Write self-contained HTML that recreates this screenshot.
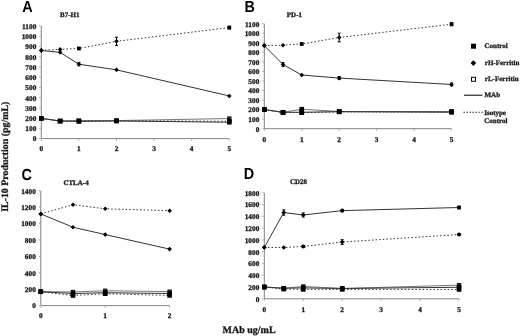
<!DOCTYPE html><html><head><meta charset="utf-8"><style>
html,body{margin:0;padding:0;background:#fff;}
svg{display:block;filter:blur(0.35px);} text{text-rendering:geometricPrecision;}
.t{stroke:#222;stroke-width:0.3px;font-family:"Liberation Serif", serif;font-weight:bold;font-size:7.3px;fill:#111;}
.ti{stroke:#222;stroke-width:0.3px;font-family:"Liberation Serif", serif;font-weight:bold;font-size:7px;fill:#111;}
.pl{font-family:"Liberation Sans", sans-serif;font-weight:bold;font-size:16px;fill:#000;}
.lg{stroke:#222;stroke-width:0.3px;font-family:"Liberation Serif", serif;font-weight:bold;font-size:7px;fill:#111;}
.ax{stroke:#222;stroke-width:0.3px;font-family:"Liberation Serif", serif;font-weight:bold;font-size:10px;fill:#111;}
.yt{stroke:#222;stroke-width:0.3px;font-family:"Liberation Serif", serif;font-weight:bold;font-size:9.9px;fill:#111;}
</style></head><body>
<svg width="520" height="336" viewBox="0 0 520 336">
<rect width="520" height="336" fill="#fff"/>
<path d="M41.3 26.07V138.6H229.3" stroke="#808080" stroke-width="1" fill="none"/>
<path d="M39.1 138.6H40.8" stroke="#aaa" stroke-width="1"/>
<text x="36.3" y="141.45" text-anchor="end" class="t">0</text>
<path d="M39.1 128.37H40.8" stroke="#aaa" stroke-width="1"/>
<text x="36.3" y="131.22" text-anchor="end" class="t">100</text>
<path d="M39.1 118.14H40.8" stroke="#aaa" stroke-width="1"/>
<text x="36.3" y="120.99" text-anchor="end" class="t">200</text>
<path d="M39.1 107.91H40.8" stroke="#aaa" stroke-width="1"/>
<text x="36.3" y="110.76" text-anchor="end" class="t">300</text>
<path d="M39.1 97.68H40.8" stroke="#aaa" stroke-width="1"/>
<text x="36.3" y="100.53" text-anchor="end" class="t">400</text>
<path d="M39.1 87.45H40.8" stroke="#aaa" stroke-width="1"/>
<text x="36.3" y="90.3" text-anchor="end" class="t">500</text>
<path d="M39.1 77.22H40.8" stroke="#aaa" stroke-width="1"/>
<text x="36.3" y="80.07" text-anchor="end" class="t">600</text>
<path d="M39.1 66.99H40.8" stroke="#aaa" stroke-width="1"/>
<text x="36.3" y="69.84" text-anchor="end" class="t">700</text>
<path d="M39.1 56.76H40.8" stroke="#aaa" stroke-width="1"/>
<text x="36.3" y="59.61" text-anchor="end" class="t">800</text>
<path d="M39.1 46.53H40.8" stroke="#aaa" stroke-width="1"/>
<text x="36.3" y="49.38" text-anchor="end" class="t">900</text>
<path d="M39.1 36.3H40.8" stroke="#aaa" stroke-width="1"/>
<text x="36.3" y="39.15" text-anchor="end" class="t">1000</text>
<path d="M39.1 26.07H40.8" stroke="#aaa" stroke-width="1"/>
<text x="36.3" y="28.92" text-anchor="end" class="t">1100</text>
<path d="M41.3 139.1V140.8" stroke="#aaa" stroke-width="1"/>
<text x="41.3" y="151.1" text-anchor="middle" class="t">0</text>
<path d="M78.9 139.1V140.8" stroke="#aaa" stroke-width="1"/>
<text x="78.9" y="151.1" text-anchor="middle" class="t">1</text>
<path d="M116.5 139.1V140.8" stroke="#aaa" stroke-width="1"/>
<text x="116.5" y="151.1" text-anchor="middle" class="t">2</text>
<path d="M154.1 139.1V140.8" stroke="#aaa" stroke-width="1"/>
<text x="154.1" y="151.1" text-anchor="middle" class="t">3</text>
<path d="M191.7 139.1V140.8" stroke="#aaa" stroke-width="1"/>
<text x="191.7" y="151.1" text-anchor="middle" class="t">4</text>
<path d="M229.3 139.1V140.8" stroke="#aaa" stroke-width="1"/>
<text x="229.3" y="151.1" text-anchor="middle" class="t">5</text>
<polyline points="41.3,118.34 60.1,121 78.9,120.6 116.5,120.6 229.3,118.55" fill="none" stroke="#777" stroke-width="1.0"/>
<polyline points="41.3,118.34 60.1,121.21 78.9,121 116.5,120.8 229.3,121.21" fill="none" stroke="#333" stroke-width="1.0" stroke-dasharray="1.5 2.1"/>
<polyline points="41.3,118.34 60.1,121 78.9,121.41 116.5,121 229.3,122.23" fill="none" stroke="#333" stroke-width="1.0"/>
<polyline points="41.3,50.42 60.1,52.36 78.9,64.23 116.5,69.85 229.3,95.94" fill="none" stroke="#333" stroke-width="1.0"/>
<polyline points="41.3,50.42 60.1,49.39 78.9,48.47 116.5,41.31 229.3,27.6" fill="none" stroke="#333" stroke-width="1.0" stroke-dasharray="1.5 2.1"/>
<rect x="39.1" y="116.14" width="4.4" height="4.4" fill="#222"/>
<rect x="57.9" y="118.8" width="4.4" height="4.4" fill="#222"/>
<rect x="76.7" y="118.4" width="4.4" height="4.4" fill="#222"/>
<rect x="114.3" y="118.4" width="4.4" height="4.4" fill="#222"/>
<rect x="227.1" y="116.35" width="4.4" height="4.4" fill="#222"/>
<rect x="39" y="116.04" width="4.6" height="4.6" fill="#000"/>
<rect x="57.8" y="118.91" width="4.6" height="4.6" fill="#000"/>
<rect x="76.6" y="118.7" width="4.6" height="4.6" fill="#000"/>
<rect x="114.2" y="118.5" width="4.6" height="4.6" fill="#000"/>
<rect x="227" y="118.91" width="4.6" height="4.6" fill="#000"/>
<rect x="39" y="116.04" width="4.6" height="4.6" fill="#000"/>
<rect x="57.8" y="118.7" width="4.6" height="4.6" fill="#000"/>
<rect x="76.6" y="119.11" width="4.6" height="4.6" fill="#000"/>
<rect x="114.2" y="118.7" width="4.6" height="4.6" fill="#000"/>
<rect x="227" y="119.93" width="4.6" height="4.6" fill="#000"/>
<path d="M41.3 48.12L43.6 50.42L41.3 52.72L39 50.42Z" fill="#000"/>
<path d="M60.1 50.06L62.4 52.36L60.1 54.66L57.8 52.36Z" fill="#000"/>
<path d="M78.9 62.69V65.76M77.4 62.69H80.4M77.4 65.76H80.4" stroke="#000" stroke-width="1" fill="none"/>
<path d="M78.9 61.93L81.2 64.23L78.9 66.53L76.6 64.23Z" fill="#000"/>
<path d="M116.5 67.55L118.8 69.85L116.5 72.15L114.2 69.85Z" fill="#000"/>
<path d="M229.3 93.64L231.6 95.94L229.3 98.24L227 95.94Z" fill="#000"/>
<path d="M41.3 48.12L43.6 50.42L41.3 52.72L39 50.42Z" fill="#000"/>
<path d="M60.1 47.09L62.4 49.39L60.1 51.69L57.8 49.39Z" fill="#000"/>
<rect x="77" y="46.57" width="3.8" height="3.8" fill="#000"/>
<path d="M116.5 37.22V45.4M115 37.22H118M115 45.4H118" stroke="#000" stroke-width="1" fill="none"/>
<path d="M116.5 39.01L118.8 41.31L116.5 43.61L114.2 41.31Z" fill="#000"/>
<path d="M229.3 26.38V28.83M227.8 26.38H230.8M227.8 28.83H230.8" stroke="#000" stroke-width="1" fill="none"/>
<rect x="227.4" y="25.7" width="3.8" height="3.8" fill="#000"/>
<text x="60.1" y="17.4" class="ti">B7-H1</text>
<text transform="translate(22.2 11.7) scale(0.9 1)" class="pl">A</text>
<path d="M264.3 23.65V128.7H451.55" stroke="#808080" stroke-width="1" fill="none"/>
<path d="M262.1 128.7H263.8" stroke="#aaa" stroke-width="1"/>
<text x="259.3" y="131.55" text-anchor="end" class="t">0</text>
<path d="M262.1 119.15H263.8" stroke="#aaa" stroke-width="1"/>
<text x="259.3" y="122" text-anchor="end" class="t">100</text>
<path d="M262.1 109.6H263.8" stroke="#aaa" stroke-width="1"/>
<text x="259.3" y="112.45" text-anchor="end" class="t">200</text>
<path d="M262.1 100.05H263.8" stroke="#aaa" stroke-width="1"/>
<text x="259.3" y="102.9" text-anchor="end" class="t">300</text>
<path d="M262.1 90.5H263.8" stroke="#aaa" stroke-width="1"/>
<text x="259.3" y="93.35" text-anchor="end" class="t">400</text>
<path d="M262.1 80.95H263.8" stroke="#aaa" stroke-width="1"/>
<text x="259.3" y="83.8" text-anchor="end" class="t">500</text>
<path d="M262.1 71.4H263.8" stroke="#aaa" stroke-width="1"/>
<text x="259.3" y="74.25" text-anchor="end" class="t">600</text>
<path d="M262.1 61.85H263.8" stroke="#aaa" stroke-width="1"/>
<text x="259.3" y="64.7" text-anchor="end" class="t">700</text>
<path d="M262.1 52.3H263.8" stroke="#aaa" stroke-width="1"/>
<text x="259.3" y="55.15" text-anchor="end" class="t">800</text>
<path d="M262.1 42.75H263.8" stroke="#aaa" stroke-width="1"/>
<text x="259.3" y="45.6" text-anchor="end" class="t">900</text>
<path d="M262.1 33.2H263.8" stroke="#aaa" stroke-width="1"/>
<text x="259.3" y="36.05" text-anchor="end" class="t">1000</text>
<path d="M262.1 23.65H263.8" stroke="#aaa" stroke-width="1"/>
<text x="259.3" y="26.5" text-anchor="end" class="t">1100</text>
<path d="M264.3 129.2V130.9" stroke="#aaa" stroke-width="1"/>
<text x="264.3" y="141.6" text-anchor="middle" class="t">0</text>
<path d="M301.75 129.2V130.9" stroke="#aaa" stroke-width="1"/>
<text x="301.75" y="141.6" text-anchor="middle" class="t">1</text>
<path d="M339.2 129.2V130.9" stroke="#aaa" stroke-width="1"/>
<text x="339.2" y="141.6" text-anchor="middle" class="t">2</text>
<path d="M376.65 129.2V130.9" stroke="#aaa" stroke-width="1"/>
<text x="376.65" y="141.6" text-anchor="middle" class="t">3</text>
<path d="M414.1 129.2V130.9" stroke="#aaa" stroke-width="1"/>
<text x="414.1" y="141.6" text-anchor="middle" class="t">4</text>
<path d="M451.55 129.2V130.9" stroke="#aaa" stroke-width="1"/>
<text x="451.55" y="141.6" text-anchor="middle" class="t">5</text>
<polyline points="264.3,109.6 283.03,112.27 301.75,109.22 339.2,111.51 451.55,111.51" fill="none" stroke="#777" stroke-width="1.0"/>
<polyline points="264.3,109.6 283.03,112.66 301.75,112.66 339.2,111.89 451.55,111.89" fill="none" stroke="#333" stroke-width="1.0" stroke-dasharray="1.5 2.1"/>
<polyline points="264.3,109.6 283.03,112.27 301.75,112.27 339.2,111.7 451.55,112.27" fill="none" stroke="#333" stroke-width="1.0"/>
<polyline points="264.3,45.61 283.03,64.52 301.75,75.03 339.2,78.08 451.55,84.48" fill="none" stroke="#333" stroke-width="1.0"/>
<polyline points="264.3,45.61 283.03,45.23 301.75,43.99 339.2,37.5 451.55,24.22" fill="none" stroke="#333" stroke-width="1.0" stroke-dasharray="1.5 2.1"/>
<rect x="262" y="107.3" width="4.6" height="4.6" fill="#000"/>
<rect x="280.73" y="109.97" width="4.6" height="4.6" fill="#000"/>
<rect x="299.45" y="106.92" width="4.6" height="4.6" fill="#000"/>
<rect x="336.9" y="109.21" width="4.6" height="4.6" fill="#000"/>
<rect x="449.25" y="109.21" width="4.6" height="4.6" fill="#000"/>
<rect x="262" y="107.3" width="4.6" height="4.6" fill="#000"/>
<rect x="280.73" y="110.36" width="4.6" height="4.6" fill="#000"/>
<rect x="299.45" y="110.36" width="4.6" height="4.6" fill="#000"/>
<rect x="336.9" y="109.59" width="4.6" height="4.6" fill="#000"/>
<rect x="449.25" y="109.59" width="4.6" height="4.6" fill="#000"/>
<rect x="262" y="107.3" width="4.6" height="4.6" fill="#000"/>
<rect x="280.73" y="109.97" width="4.6" height="4.6" fill="#000"/>
<rect x="299.45" y="109.97" width="4.6" height="4.6" fill="#000"/>
<rect x="336.9" y="109.4" width="4.6" height="4.6" fill="#000"/>
<rect x="449.25" y="109.97" width="4.6" height="4.6" fill="#000"/>
<path d="M264.3 43.31L266.6 45.61L264.3 47.91L262 45.61Z" fill="#000"/>
<path d="M283.03 62.61V66.43M281.53 62.61H284.53M281.53 66.43H284.53" stroke="#000" stroke-width="1" fill="none"/>
<path d="M283.03 62.22L285.33 64.52L283.03 66.82L280.73 64.52Z" fill="#000"/>
<path d="M301.75 72.73L304.05 75.03L301.75 77.33L299.45 75.03Z" fill="#000"/>
<path d="M339.2 76.65V79.52M337.7 76.65H340.7M337.7 79.52H340.7" stroke="#000" stroke-width="1" fill="none"/>
<path d="M339.2 75.78L341.5 78.08L339.2 80.38L336.9 78.08Z" fill="#000"/>
<path d="M451.55 83.05V85.92M450.05 83.05H453.05M450.05 85.92H453.05" stroke="#000" stroke-width="1" fill="none"/>
<path d="M451.55 82.18L453.85 84.48L451.55 86.78L449.25 84.48Z" fill="#000"/>
<path d="M264.3 43.31L266.6 45.61L264.3 47.91L262 45.61Z" fill="#000"/>
<path d="M283.03 42.93L285.33 45.23L283.03 47.53L280.73 45.23Z" fill="#000"/>
<rect x="299.85" y="42.09" width="3.8" height="3.8" fill="#000"/>
<path d="M339.2 33.2V41.79M337.7 33.2H340.7M337.7 41.79H340.7" stroke="#000" stroke-width="1" fill="none"/>
<path d="M339.2 35.2L341.5 37.5L339.2 39.8L336.9 37.5Z" fill="#000"/>
<path d="M451.55 22.79V25.66M450.05 22.79H453.05M450.05 25.66H453.05" stroke="#000" stroke-width="1" fill="none"/>
<rect x="449.65" y="22.32" width="3.8" height="3.8" fill="#000"/>
<text x="286.8" y="17" class="ti">PD-1</text>
<text transform="translate(244.4 11.7) scale(0.9 1)" class="pl">B</text>
<path d="M40.8 190.66V305.6H169.6" stroke="#808080" stroke-width="1" fill="none"/>
<path d="M38.6 305.6H40.3" stroke="#aaa" stroke-width="1"/>
<text x="35.8" y="308.45" text-anchor="end" class="t">0</text>
<path d="M38.6 289.18H40.3" stroke="#aaa" stroke-width="1"/>
<text x="35.8" y="292.03" text-anchor="end" class="t">200</text>
<path d="M38.6 272.76H40.3" stroke="#aaa" stroke-width="1"/>
<text x="35.8" y="275.61" text-anchor="end" class="t">400</text>
<path d="M38.6 256.34H40.3" stroke="#aaa" stroke-width="1"/>
<text x="35.8" y="259.19" text-anchor="end" class="t">600</text>
<path d="M38.6 239.92H40.3" stroke="#aaa" stroke-width="1"/>
<text x="35.8" y="242.77" text-anchor="end" class="t">800</text>
<path d="M38.6 223.5H40.3" stroke="#aaa" stroke-width="1"/>
<text x="35.8" y="226.35" text-anchor="end" class="t">1000</text>
<path d="M38.6 207.08H40.3" stroke="#aaa" stroke-width="1"/>
<text x="35.8" y="209.93" text-anchor="end" class="t">1200</text>
<path d="M38.6 190.66H40.3" stroke="#aaa" stroke-width="1"/>
<text x="35.8" y="193.51" text-anchor="end" class="t">1400</text>
<path d="M40.8 306.1V307.8" stroke="#aaa" stroke-width="1"/>
<text x="40.8" y="318.1" text-anchor="middle" class="t">0</text>
<path d="M105.2 306.1V307.8" stroke="#aaa" stroke-width="1"/>
<text x="105.2" y="318.1" text-anchor="middle" class="t">1</text>
<path d="M169.6 306.1V307.8" stroke="#aaa" stroke-width="1"/>
<text x="169.6" y="318.1" text-anchor="middle" class="t">2</text>
<polyline points="40.8,291.73 73,291.97 105.2,290.74 169.6,291.64" fill="none" stroke="#777" stroke-width="1.0"/>
<polyline points="40.8,291.73 73,295.5 105.2,293.7 169.6,295.42" fill="none" stroke="#333" stroke-width="1.0" stroke-dasharray="1.5 2.1"/>
<polyline points="40.8,291.73 73,293.53 105.2,292.71 169.6,293.53" fill="none" stroke="#333" stroke-width="1.0"/>
<polyline points="40.8,213.98 73,227.19 105.2,234.58 169.6,249.12" fill="none" stroke="#333" stroke-width="1.0"/>
<polyline points="40.8,213.98 73,204.78 105.2,208.8 169.6,210.69" fill="none" stroke="#333" stroke-width="1.0" stroke-dasharray="1.5 2.1"/>
<rect x="38.6" y="289.53" width="4.4" height="4.4" fill="#222"/>
<rect x="70.8" y="289.77" width="4.4" height="4.4" fill="#222"/>
<rect x="103" y="288.54" width="4.4" height="4.4" fill="#222"/>
<rect x="167.4" y="289.44" width="4.4" height="4.4" fill="#222"/>
<rect x="38.5" y="289.43" width="4.6" height="4.6" fill="#000"/>
<rect x="70.7" y="293.2" width="4.6" height="4.6" fill="#000"/>
<rect x="102.9" y="291.4" width="4.6" height="4.6" fill="#000"/>
<rect x="167.3" y="293.12" width="4.6" height="4.6" fill="#000"/>
<rect x="38.5" y="289.43" width="4.6" height="4.6" fill="#000"/>
<rect x="70.7" y="291.23" width="4.6" height="4.6" fill="#000"/>
<rect x="102.9" y="290.41" width="4.6" height="4.6" fill="#000"/>
<rect x="167.3" y="291.23" width="4.6" height="4.6" fill="#000"/>
<path d="M40.8 211.68L43.1 213.98L40.8 216.28L38.5 213.98Z" fill="#000"/>
<path d="M73 224.89L75.3 227.19L73 229.49L70.7 227.19Z" fill="#000"/>
<path d="M105.2 232.28L107.5 234.58L105.2 236.88L102.9 234.58Z" fill="#000"/>
<path d="M169.6 246.82L171.9 249.12L169.6 251.42L167.3 249.12Z" fill="#000"/>
<path d="M40.8 211.68L43.1 213.98L40.8 216.28L38.5 213.98Z" fill="#000"/>
<path d="M73 202.48L75.3 204.78L73 207.08L70.7 204.78Z" fill="#000"/>
<path d="M105.2 206.5L107.5 208.8L105.2 211.1L102.9 208.8Z" fill="#000"/>
<path d="M169.6 208.39L171.9 210.69L169.6 212.99L167.3 210.69Z" fill="#000"/>
<text x="63.4" y="184.6" class="ti">CTLA-4</text>
<text transform="translate(21.5 179.7) scale(0.9 1)" class="pl">C</text>
<path d="M264.3 192.78V298.8H459.05" stroke="#808080" stroke-width="1" fill="none"/>
<path d="M262.1 298.8H263.8" stroke="#aaa" stroke-width="1"/>
<text x="259.3" y="301.65" text-anchor="end" class="t">0</text>
<path d="M262.1 287.02H263.8" stroke="#aaa" stroke-width="1"/>
<text x="259.3" y="289.87" text-anchor="end" class="t">200</text>
<path d="M262.1 275.24H263.8" stroke="#aaa" stroke-width="1"/>
<text x="259.3" y="278.09" text-anchor="end" class="t">400</text>
<path d="M262.1 263.46H263.8" stroke="#aaa" stroke-width="1"/>
<text x="259.3" y="266.31" text-anchor="end" class="t">600</text>
<path d="M262.1 251.68H263.8" stroke="#aaa" stroke-width="1"/>
<text x="259.3" y="254.53" text-anchor="end" class="t">800</text>
<path d="M262.1 239.9H263.8" stroke="#aaa" stroke-width="1"/>
<text x="259.3" y="242.75" text-anchor="end" class="t">1000</text>
<path d="M262.1 228.12H263.8" stroke="#aaa" stroke-width="1"/>
<text x="259.3" y="230.97" text-anchor="end" class="t">1200</text>
<path d="M262.1 216.34H263.8" stroke="#aaa" stroke-width="1"/>
<text x="259.3" y="219.19" text-anchor="end" class="t">1400</text>
<path d="M262.1 204.56H263.8" stroke="#aaa" stroke-width="1"/>
<text x="259.3" y="207.41" text-anchor="end" class="t">1600</text>
<path d="M262.1 192.78H263.8" stroke="#aaa" stroke-width="1"/>
<text x="259.3" y="195.63" text-anchor="end" class="t">1800</text>
<path d="M264.3 299.3V301" stroke="#aaa" stroke-width="1"/>
<text x="264.3" y="311.8" text-anchor="middle" class="t">0</text>
<path d="M303.25 299.3V301" stroke="#aaa" stroke-width="1"/>
<text x="303.25" y="311.8" text-anchor="middle" class="t">1</text>
<path d="M342.2 299.3V301" stroke="#aaa" stroke-width="1"/>
<text x="342.2" y="311.8" text-anchor="middle" class="t">2</text>
<path d="M381.15 299.3V301" stroke="#aaa" stroke-width="1"/>
<text x="381.15" y="311.8" text-anchor="middle" class="t">3</text>
<path d="M420.1 299.3V301" stroke="#aaa" stroke-width="1"/>
<text x="420.1" y="311.8" text-anchor="middle" class="t">4</text>
<path d="M459.05 299.3V301" stroke="#aaa" stroke-width="1"/>
<text x="459.05" y="311.8" text-anchor="middle" class="t">5</text>
<polyline points="264.3,287.02 283.78,288.26 303.25,286.43 342.2,288.49 459.05,285.14" fill="none" stroke="#777" stroke-width="1.0"/>
<polyline points="264.3,287.02 283.78,289.08 303.25,289.38 342.2,289.38 459.05,289.49" fill="none" stroke="#333" stroke-width="1.0" stroke-dasharray="1.5 2.1"/>
<polyline points="264.3,287.02 283.78,288.26 303.25,287.9 342.2,288.49 459.05,287.26" fill="none" stroke="#333" stroke-width="1.0"/>
<polyline points="264.3,247.5 283.78,212.51 303.25,214.99 342.2,210.63 459.05,207.5" fill="none" stroke="#333" stroke-width="1.0"/>
<polyline points="264.3,247.5 283.78,247.5 303.25,246.5 342.2,242.02 459.05,234.48" fill="none" stroke="#333" stroke-width="1.0" stroke-dasharray="1.5 2.1"/>
<rect x="262.1" y="284.82" width="4.4" height="4.4" fill="#222"/>
<rect x="281.58" y="286.06" width="4.4" height="4.4" fill="#222"/>
<rect x="301.05" y="284.23" width="4.4" height="4.4" fill="#222"/>
<rect x="340" y="286.29" width="4.4" height="4.4" fill="#222"/>
<rect x="456.85" y="282.94" width="4.4" height="4.4" fill="#222"/>
<rect x="262" y="284.72" width="4.6" height="4.6" fill="#000"/>
<rect x="281.48" y="286.78" width="4.6" height="4.6" fill="#000"/>
<rect x="300.95" y="287.08" width="4.6" height="4.6" fill="#000"/>
<rect x="339.9" y="287.08" width="4.6" height="4.6" fill="#000"/>
<rect x="456.75" y="287.19" width="4.6" height="4.6" fill="#000"/>
<rect x="262" y="284.72" width="4.6" height="4.6" fill="#000"/>
<rect x="281.48" y="285.96" width="4.6" height="4.6" fill="#000"/>
<rect x="300.95" y="285.6" width="4.6" height="4.6" fill="#000"/>
<rect x="339.9" y="286.19" width="4.6" height="4.6" fill="#000"/>
<rect x="456.75" y="284.96" width="4.6" height="4.6" fill="#000"/>
<path d="M264.3 245.2L266.6 247.5L264.3 249.8L262 247.5Z" fill="#000"/>
<path d="M283.78 209.86V215.16M282.28 209.86H285.28M282.28 215.16H285.28" stroke="#000" stroke-width="1" fill="none"/>
<path d="M283.78 210.21L286.08 212.51L283.78 214.81L281.48 212.51Z" fill="#000"/>
<path d="M303.25 212.92V217.05M301.75 212.92H304.75M301.75 217.05H304.75" stroke="#000" stroke-width="1" fill="none"/>
<path d="M303.25 212.69L305.55 214.99L303.25 217.29L300.95 214.99Z" fill="#000"/>
<circle cx="342.2" cy="210.63" r="2.1" fill="#000"/>
<path d="M459.05 206.33V208.68M457.55 206.33H460.55M457.55 208.68H460.55" stroke="#000" stroke-width="1" fill="none"/>
<rect x="457.15" y="205.6" width="3.8" height="3.8" fill="#000"/>
<path d="M264.3 245.2L266.6 247.5L264.3 249.8L262 247.5Z" fill="#000"/>
<path d="M283.78 245.2L286.08 247.5L283.78 249.8L281.48 247.5Z" fill="#000"/>
<circle cx="303.25" cy="246.5" r="2.1" fill="#000"/>
<path d="M342.2 239.66V244.38M340.7 239.66H343.7M340.7 244.38H343.7" stroke="#000" stroke-width="1" fill="none"/>
<path d="M342.2 239.72L344.5 242.02L342.2 244.32L339.9 242.02Z" fill="#000"/>
<circle cx="459.05" cy="234.48" r="2.1" fill="#000"/>
<text x="290" y="184.2" class="ti">CD28</text>
<text transform="translate(243.7 178.6) scale(0.9 1)" class="pl">D</text>
<rect x="471" y="43.7" width="5" height="5" fill="#000"/>
<text x="484.5" y="47.8" class="lg">Control</text>
<path d="M473.4 60.3L476.2 63.1L473.4 65.9L470.6 63.1Z" fill="#000"/>
<text x="484.8" y="64.5" class="lg">rH-Ferritin</text>
<rect x="471.5" y="77.3" width="4" height="4" fill="#fff" stroke="#000" stroke-width="1"/>
<text x="484.8" y="80.9" class="lg">rL-Ferritin</text>
<path d="M464 95.2H482.5" stroke="#111" stroke-width="1.1"/>
<text x="484.5" y="96.9" class="lg">MAb</text>
<path d="M463.5 112.3H483" stroke="#111" stroke-width="1.1" stroke-dasharray="1.3 1.7"/>
<text x="484.2" y="114.7" class="lg">Isotype</text>
<text x="484.2" y="122.8" class="lg">Control</text>
<text x="222.5" y="333" class="ax">MAb ug/mL</text>
<text transform="translate(8.1 211.8) rotate(-90)" class="yt">IL-10 Production (pg/mL)</text>
</svg></body></html>
